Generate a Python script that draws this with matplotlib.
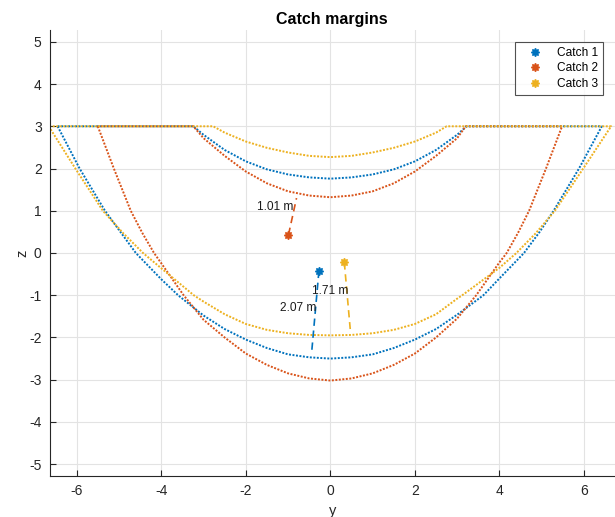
import matplotlib.pyplot as plt

plt.rcParams['font.family'] = ['Liberation Sans', 'DejaVu Sans']
plt.rcParams['axes.unicode_minus'] = False

# couleurs des trois essais (palette par defaut de MATLAB)
colors = ['#0072BD', '#D95319', '#EDB120']
labels = ['Catch 1', 'Catch 2', 'Catch 3']

# contour exterieur (bas) de chaque marge
outer_y = [
    [-6.45, -5.93, -5.33, -4.98, -4.60, -4.00, -3.60, -3.00, -2.50, -2.00, -1.50, -1.00, -0.50, 0.0,
     0.50, 1.00, 1.50, 2.00, 2.50, 3.00, 3.62, 4.00, 4.58, 4.95, 5.28, 5.88, 6.42],
    [-5.50, -5.12, -4.72, -4.45, -4.17, -4.00, -3.47, -3.00, -2.50, -2.00, -1.50, -1.00, -0.50, 0.0,
     0.50, 1.00, 1.50, 2.00, 2.50, 3.00, 3.45, 4.00, 4.17, 4.44, 4.70, 5.10, 5.48],
    [-6.66, -6.03, -5.38, -4.90, -4.43, -4.00, -3.23, -3.00, -2.50, -2.00, -1.50, -1.00, -0.50, 0.0,
     0.50, 1.00, 1.50, 2.00, 2.50, 3.00, 3.12, 4.00, 4.40, 4.86, 5.31, 5.98, 6.64],
]
outer_z = [
    [3.0, 2.0, 1.0, 0.52, 0.0, -0.62, -1.0, -1.48, -1.80, -2.05, -2.25, -2.40, -2.47, -2.50,
     -2.47, -2.40, -2.25, -2.05, -1.80, -1.46, -1.0, -0.60, 0.0, 0.50, 1.0, 2.0, 3.0],
    [3.0, 2.0, 1.0, 0.48, 0.0, -0.24, -1.0, -1.58, -2.00, -2.38, -2.65, -2.85, -2.97, -3.02,
     -2.97, -2.85, -2.65, -2.38, -2.00, -1.55, -1.0, -0.22, 0.0, 0.48, 1.0, 2.0, 3.0],
    [3.0, 2.0, 1.0, 0.47, 0.0, -0.36, -1.0, -1.15, -1.45, -1.68, -1.82, -1.90, -1.94, -1.95,
     -1.94, -1.90, -1.82, -1.68, -1.45, -1.08, -1.0, -0.35, 0.0, 0.47, 1.0, 2.0, 3.0],
]

# contour interieur (haut)
inner_y = [
    [-3.24, -3.00, -2.50, -2.00, -1.50, -1.00, -0.50, 0.0, 0.50, 1.00, 1.50, 2.00, 2.50, 3.00, 3.22],
    [-3.24, -3.00, -2.50, -2.00, -1.50, -1.00, -0.50, 0.0, 0.50, 1.00, 1.50, 2.00, 2.50, 3.00, 3.20],
    [-2.77, -2.50, -2.00, -1.50, -1.00, -0.50, 0.0, 0.50, 1.00, 1.50, 2.00, 2.50, 2.75],
]
inner_z = [
    [3.0, 2.80, 2.44, 2.17, 1.98, 1.86, 1.79, 1.76, 1.79, 1.86, 1.98, 2.17, 2.44, 2.80, 3.0],
    [3.0, 2.72, 2.30, 1.93, 1.65, 1.46, 1.36, 1.32, 1.36, 1.46, 1.65, 1.93, 2.30, 2.72, 3.0],
    [3.0, 2.85, 2.64, 2.49, 2.38, 2.30, 2.27, 2.30, 2.38, 2.49, 2.64, 2.85, 3.0],
]

# points de rattrapage et segment de marge
catch_y = [-0.27, -0.99, 0.33]
catch_z = [-0.42, 0.43, -0.22]
end_y = [-0.44, -0.80, 0.47]
end_z = [-2.33, 1.30, -1.80]
margins = ['2.07 m', '1.01 m', '1.71 m']
text_y = [-0.34, -0.87, 0.42]
text_z = [-1.30, 1.09, -0.91]

fig = plt.figure(figsize=(6.15, 5.17), dpi=100)
ax = fig.add_axes([50 / 615, 41 / 517, 564.5 / 615, 446 / 517])

# contours fermes : bas de gauche a droite, puis haut de droite a gauche
for i in range(3):
    ys = outer_y[i] + inner_y[i][::-1] + [outer_y[i][0]]
    zs = outer_z[i] + inner_z[i][::-1] + [outer_z[i][0]]
    ax.plot(ys, zs, color=colors[i], lw=1.4, linestyle=(0, (1, 0.8)), zorder=2)

handles = []
for i in range(3):
    ax.plot([catch_y[i], end_y[i]], [catch_z[i], end_z[i]], color=colors[i], lw=1.2,
            linestyle=(0, (4.4, 2.8)), zorder=3)
    h, = ax.plot(catch_y[i], catch_z[i], linestyle='none', marker=(8, 1, 0), ms=6,
                 color=colors[i], label=labels[i], zorder=4)
    handles.append(h)
    ax.text(text_y[i], text_z[i], margins[i], ha='right', va='center', fontsize=8.6,
            color='#1a1a1a', zorder=5)

ax.set_xlim(-6.63, 6.72)
ax.set_ylim(-5.28, 5.28)
ax.set_xticks(range(-6, 7, 2))
ax.set_yticks(range(-5, 6))
ax.grid(True, color='#e3e3e3', lw=0.8)
ax.set_axisbelow(True)
for s in ['top', 'right']:
    ax.spines[s].set_visible(False)
for s in ['left', 'bottom']:
    ax.spines[s].set_color('#262626')
    ax.spines[s].set_linewidth(0.8)
ax.tick_params(direction='in', length=4, width=0.8, color='#262626', labelcolor='#262626',
               labelsize=10, pad=6)

ax.set_xlabel('y', fontsize=10.5, color='#262626', labelpad=4)
ax.set_ylabel('z', fontsize=10.5, color='#262626', labelpad=0)
ax.set_title('Catch margins', fontsize=11.5, fontweight='bold', color='black', pad=4)

leg = ax.legend(handles=handles, loc='upper right', bbox_to_anchor=(1 - 12 / 564.5, 1 - 12 / 446),
                borderaxespad=0, fontsize=8.6, frameon=True, fancybox=False, handlelength=2.6,
                handletextpad=0.5, labelspacing=0.3, borderpad=0.4)
leg.get_frame().set_edgecolor('#262626')
leg.get_frame().set_linewidth(0.8)

fig.savefig('out.png', dpi=100)
